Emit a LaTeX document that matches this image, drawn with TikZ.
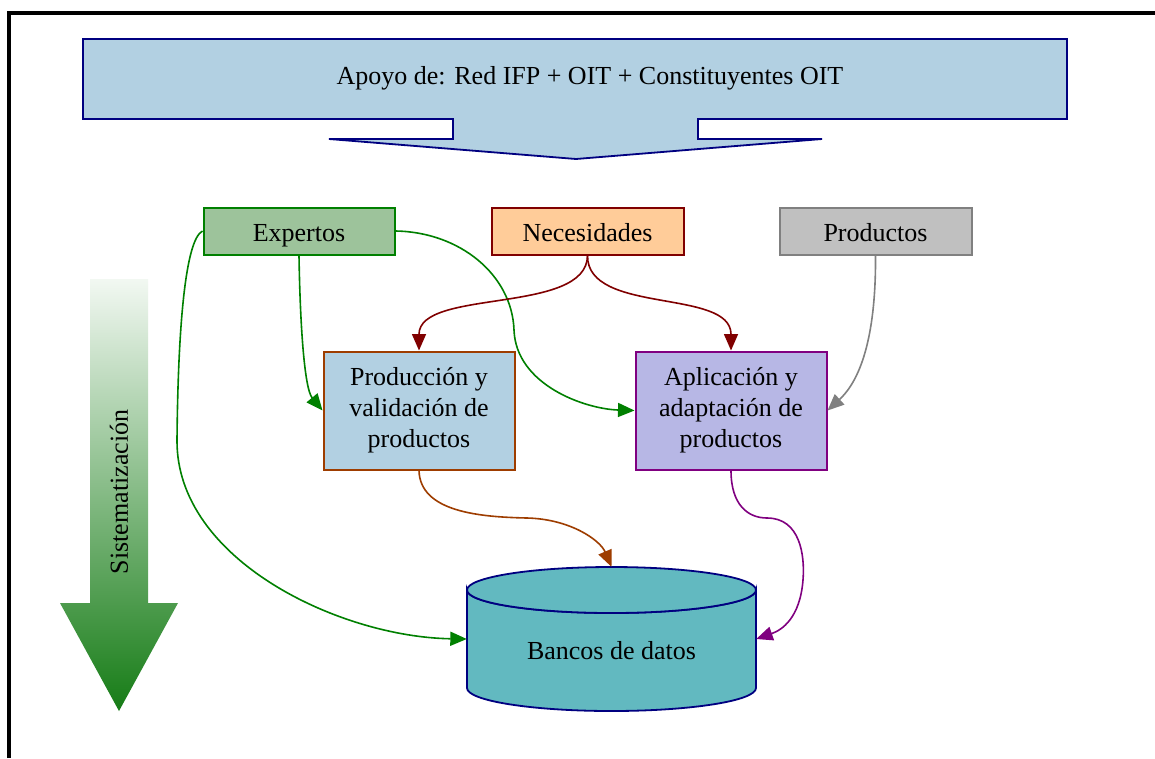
\documentclass[tikz,border=0pt]{standalone}
\usepackage{fontspec}
\setmainfont{Liberation Serif}
\usetikzlibrary{arrows.meta}
\definecolor{bannerfill}{RGB}{178,208,226}
\definecolor{navy}{RGB}{0,0,128}
\definecolor{expfill}{RGB}{157,195,155}
\definecolor{expline}{RGB}{0,128,0}
\definecolor{necfill}{RGB}{255,204,153}
\definecolor{necline}{RGB}{128,0,0}
\definecolor{prodfill}{RGB}{192,192,192}
\definecolor{prodline}{RGB}{128,128,128}
\definecolor{pvline}{RGB}{158,61,0}
\definecolor{aplfill}{RGB}{183,183,229}
\definecolor{aplline}{RGB}{128,0,128}
\definecolor{bdfill}{RGB}{98,185,192}
\definecolor{systop}{RGB}{242,248,242}
\definecolor{sysbot}{RGB}{22,124,22}
\begin{document}
\begin{tikzpicture}[x=1pt,y=-1pt,
  box/.style={draw, line width=2pt, inner sep=0pt, align=center,
    font=\fontsize{26}{31}\selectfont},
  onebox/.style={box, minimum height=47, text height=21pt, text depth=0pt},
  lbl/.style={inner sep=0pt, align=center, font=\fontsize{26}{31}\selectfont},
  conn/.style={line width=1.6pt, -{Triangle[length=16.5pt,width=14pt]}}]
\useasboundingbox (0,0) rectangle (1155,758);
\fill[white] (0,0) rectangle (1155,758);
% frame
\draw[line width=4pt, line join=miter] (9,758) -- (9,13) -- (1155,13);
% banner arrow
\draw[fill=bannerfill, draw=navy, line width=1.8pt, line join=miter]
  (83,39) -- (1067,39) -- (1067,119) -- (698,119) -- (698,139) -- (822,139)
  -- (576,159) -- (329,139) -- (453,139) -- (453,119) -- (83,119) -- cycle;
\node[lbl] (apoyo) at (590,78) {Apoyo de: Red IFP + OIT + Constituyentes OIT};
% Sistematizacion arrow
\shade[top color=systop, bottom color=sysbot]
  (90,279) -- (148,279) -- (148,603) -- (178,603) -- (119,711) -- (60,603) -- (90,603) -- cycle;
\node[lbl, rotate=90] (sys) at (119,492) {Sistematización};
% boxes
\node[onebox, fill=expfill, draw=expline, minimum width=191] (exp) at (299,231) {Expertos};
\node[onebox, fill=necfill, draw=necline, minimum width=192] (nec) at (587.5,231) {Necesidades};
\node[onebox, fill=prodfill, draw=prodline, minimum width=192] (prod) at (875.5,231) {Productos};
\node[box, fill=bannerfill, draw=pvline, minimum width=191, minimum height=118] (pv) at (419,410.5) {Producción y\\validación de\\productos};
\node[box, fill=aplfill, draw=aplline, minimum width=191, minimum height=118] (apl) at (731,410.5) {Aplicación y\\adaptación de\\productos};
% cylinder
\node[minimum width=289, minimum height=144, inner sep=0pt] (bd) at (611.5,639) {};
\draw[fill=bdfill, draw=navy, line width=1.8pt]
  (467,590) -- (467,688) arc[start angle=180, end angle=0, x radius=144.5, y radius=23]
  -- (756,590) arc[start angle=0, end angle=180, x radius=144.5, y radius=23] -- cycle;
\draw[fill=bdfill, draw=navy, line width=1.8pt] (611.5,590) ellipse[x radius=144.5, y radius=23];
\node[lbl] (bdt) at (611.5,651) {Bancos de datos};
% connectors
\draw[conn, expline] (exp.south) .. controls (300,320) and (304,388) .. (pv.west);
\draw[conn, expline] (exp.east) .. controls (460,232) and (512,275) .. (514,330)
  .. controls (516,385) and (585,409) .. (apl.west);
\draw[conn, expline] (exp.west) .. controls (185,240) and (178,330) .. (177,440)
  .. controls (176,560) and (340,637) .. (bd.west);
\draw[conn, necline] (nec.south) .. controls (587,315) and (419,288) .. (pv.north);
\draw[conn, necline] (nec.south) .. controls (587,315) and (731,288) .. (apl.north);
\draw[conn, prodline] (prod.south) .. controls (876,320) and (866,375) .. (apl.east);
\draw[conn, pvline] (pv.south) .. controls (420,512) and (480,517) .. (527,518)
  .. controls (570,519) and (600,540) .. (bd.north);
\draw[conn, aplline] (apl.south) .. controls (731,505) and (748,518) .. (767,518)
  .. controls (800,518) and (805,555) .. (803,580) .. controls (800,618) and (782,630) .. (bd.east);
\end{tikzpicture}
\end{document}
